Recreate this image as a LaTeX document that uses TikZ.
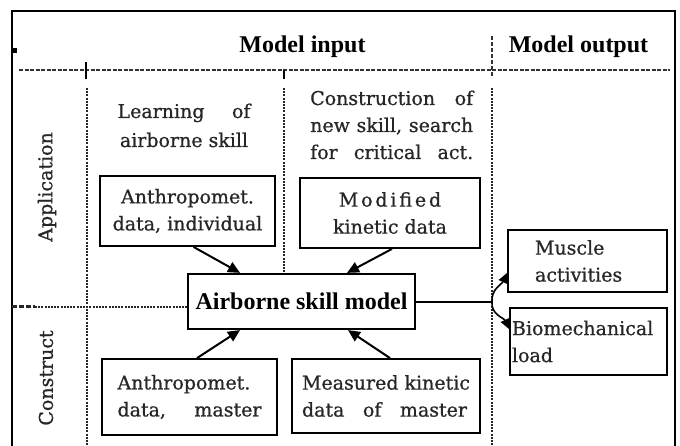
\documentclass[tikz,border=0pt]{standalone}
\usepackage{fontspec}
\setmainfont{Liberation Serif}
\newfontfamily\bodyf[FakeBold=0.8]{DejaVu Serif}
\usetikzlibrary{arrows.meta}
\newcommand{\lsp}[2]{{\addfontfeature{LetterSpace=#1}#2}}
\begin{document}
\begin{tikzpicture}[x=1pt,y=-1pt,
  box/.style={draw, line width=1.8pt, inner sep=0pt, font=\bodyf\fontsize{19}{27}\selectfont, text=black!85},
  lbl/.style={inner sep=0pt, font=\bodyf\fontsize{19}{27}\selectfont, text=black!85},
  head/.style={inner sep=0pt, font=\fontsize{24}{28}\selectfont\bfseries},
  vgrid/.style={line width=1.6pt, black!85, dash pattern=on 2pt off 1.2pt},
  hgrid/.style={line width=2pt, black!80, dash pattern=on 4pt off 1.5pt},
  arr/.style={line width=2pt, -{Triangle[length=12pt,width=11pt]}},
  oarr/.style={line width=1.6pt, -{Triangle[length=10pt,width=9pt]}},
]
\useasboundingbox (0,0) rectangle (680,446);
% frame
\draw[line width=1.5pt] (12,446) -- (12,11) -- (675,11) -- (675,446);
\fill (12,48) rectangle (17,53);
% headings
\node[head, anchor=base] (hin) at (302.5,53) {Model input};
\node[head, anchor=base] (hout) at (578.5,53) {Model output};
% grid lines
\draw[hgrid] (19,70) -- (670,70);
\draw[line width=1.5pt] (86,62) -- (86,79);
\draw[line width=1.5pt] (284,70) -- (284,79);
\draw[line width=2.5pt, black!80, dash pattern=on 4pt off 2pt] (492,36) -- (492,78);
% boxes
\node[box, line width=2.2pt, minimum width=227pt, minimum height=55pt, font=\fontsize{24}{28}\selectfont\bfseries, text=black] (model) at (301.5,301.5) {Airborne skill model};
\node[box, minimum width=175pt, minimum height=70pt, align=center] (indiv) at (187.5,211) {Anthropomet.\\data, individual};
\node[box, minimum width=180pt, minimum height=70pt, align=center] (modif) at (390,213) {\lsp{15}{Modified}\\kinetic data};
\node[box, minimum width=175pt, minimum height=76pt, align=left] (master) at (189.5,397) {Anthropomet.\\\makebox[144pt][s]{data, master}};
\node[box, minimum width=188pt, minimum height=74pt, align=left] (meas) at (386,396) {Measured kinetic\\\makebox[165pt][s]{data of master}};
\node[box, minimum width=159pt, minimum height=62pt, text width=105pt, align=left] (muscle) at (587.5,261) {Muscle\\activities};
\node[box, minimum width=157pt, minimum height=67pt, text width=153pt, align=left] (biomech) at (588.5,341.5) {Biomechanical\\load};
% labels
\node[lbl, anchor=base] (learn1) at (184,118) {\makebox[133pt][s]{Learning of}};
\node[lbl, anchor=base] (learn2) at (184,147) {airborne skill};
\node[lbl, anchor=base west] (cons1) at (310,105) {\makebox[163pt][s]{Construction of}};
\node[lbl, anchor=base west] (cons2) at (310,132) {\makebox[163pt][s]{new skill, search}};
\node[lbl, anchor=base west] (cons3) at (310,159) {\makebox[163pt][s]{for critical act.}};
\node[lbl, rotate=90] (appl) at (47,187) {Application};
\node[lbl, rotate=90] (constr) at (46,378) {Construct};
% remaining grid lines
\coordinate (v1top) at (87,88);
\coordinate (v2top) at (284,88);
\coordinate (v3top) at (492,88);
\draw[vgrid] (v1top) -- (87,446);
\draw[vgrid] (v2top) -- (v2top |- model.north);
\draw[vgrid] (v3top) -- (492,446);
\draw[line width=3pt, black!85, dash pattern=on 5pt off 2pt] (12,307) -- (35,307);
\draw[vgrid] (35,307) -- (model.west |- 0,307);
% arrows
\draw[arr] ([xshift=6pt]indiv.south) -- ([xshift=-61.5pt]model.north);
\draw[arr] ([xshift=2pt]modif.south) -- ([xshift=45.5pt]model.north);
\draw[arr] ([xshift=7.5pt]master.north) -- ([xshift=-61.5pt]model.south);
\draw[arr] ([xshift=4pt]meas.north) -- ([xshift=46.5pt]model.south);
\coordinate (split) at (492,302);
\draw[line width=1.6pt] (model.east |- split) -- (split);
\draw[oarr] (split) to[out=95,in=245] ([yshift=20pt]muscle.south west);
\draw[oarr] (split) to[out=-95,in=115] ([yshift=-22pt]biomech.north west);
\end{tikzpicture}
\end{document}
